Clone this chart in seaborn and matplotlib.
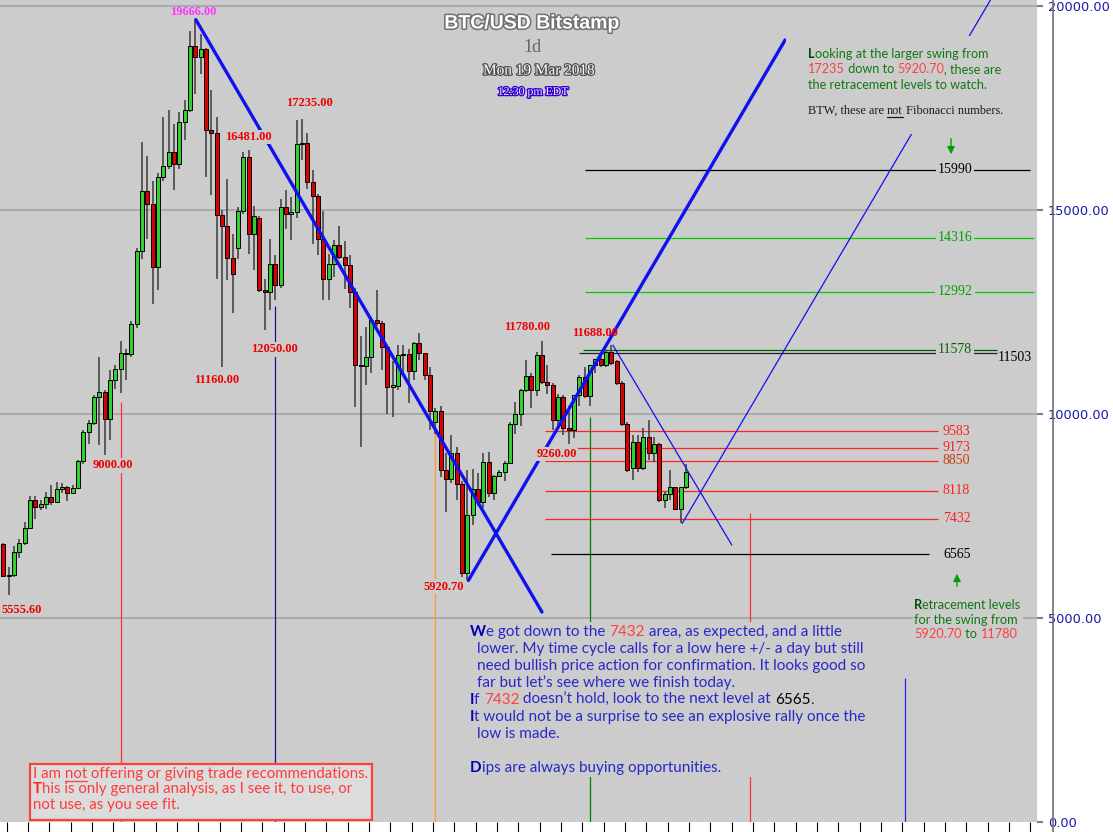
import numpy as np
import pandas as pd
import matplotlib
matplotlib.use('Agg')
import matplotlib.pyplot as plt
import seaborn as sns
import matplotlib.patheffects as pe
from matplotlib.transforms import IdentityTransform
from matplotlib.patches import Rectangle, FancyArrowPatch
from matplotlib.lines import Line2D

# ---------------- data ----------------
dates = pd.date_range('2017-11-11', '2018-03-19', freq='D')

open_ = [6803, 6027, 6060, 6623, 6844, 7211, 7889, 7710, 7791, 7955,
         7848, 8158, 8200, 8053, 8175, 8845, 9547, 9768, 10420, 10543,
         9866, 10845, 11115, 11498, 11470, 12201, 13997, 15467, 15158, 13605,
         15810, 16072, 16423, 16138, 17153, 17461, 19012, 18750, 18955, 16970,
         16888, 14872, 14602, 13835, 14080, 14977, 16300, 14423, 14806, 13034,
         12990, 13688, 13157, 15075, 14912, 14950, 16611, 16650, 15688, 15337,
         14300, 13304, 13688, 14136, 13850, 13646, 12993, 11197, 11170, 11400,
         12299, 12240, 11630, 10665, 10690, 11441, 11460, 11057, 11752, 11483,
         10951, 9808, 10070, 8624, 8396, 9048, 8281, 6093, 7522, 8151,
         7848, 8828, 8053, 8477, 8567, 8803, 9743, 9996, 10584, 10935,
         10584, 11441, 10788, 10720, 9849, 10420, 9650, 9610, 10462, 10910,
         10440, 11197, 11360, 11197, 11523, 11290, 10748, 9767, 8665, 9318,
         8665, 9440, 9033, 9277, 7889, 8036, 8200, 7660, 8200]
high = [6830, 6256, 6762, 6926, 7358, 7987, 7987, 7889, 8093, 8256,
        8338, 8300, 8230, 8256, 8870, 9604, 9849, 10462, 11385, 10584,
        11074, 11197, 11792, 11581, 12282, 14080, 16668, 16325, 15700, 15900,
        17280, 17444, 17118, 17397, 17689, 19387, 19666, 19323, 18979, 17951,
        17280, 14994, 15770, 14423, 15075, 16423, 16481, 15092, 14850, 13300,
        14300, 13900, 15280, 15484, 15320, 17199, 17235, 16888, 15990, 15400,
        14977, 13932, 14259, 14602, 14250, 13900, 13100, 11900, 12135, 12380,
        13050, 12282, 11650, 11290, 11700, 11687, 11600, 11768, 11988, 11500,
        11150, 10135, 10200, 9033, 9482, 9200, 8350, 8624, 8641, 8543,
        9033, 9074, 8500, 8620, 8850, 9800, 10298, 10620, 11319, 11000,
        11523, 11780, 11200, 10750, 10500, 10460, 10200, 10462, 10960, 11150,
        11197, 11360, 11440, 11560, 11688, 11320, 10800, 9800, 9482, 9480,
        9645, 9850, 9440, 9300, 8100, 8624, 8220, 8220, 8763]
low = [6010, 5555.6, 6010, 6460, 6800, 7190, 7415, 7645, 7660, 7766,
       7830, 8060, 7864, 8040, 8160, 8763, 9261, 9720, 9237, 9000,
       9359, 10625, 10503, 10829, 11385, 12100, 13810, 14300, 12708, 13034,
       15700, 16000, 15484, 16000, 16709, 17400, 17853, 18343, 15810, 15362,
       13321, 11160, 13296, 12478, 13810, 14900, 13932, 13524, 13000, 12050,
       12544, 12789, 13100, 14545, 14259, 14800, 16219, 15525, 14177, 13892,
       12789, 12789, 13360, 13808, 13058, 12600, 10175, 9200, 10707, 11008,
       12150, 11090, 10012, 9930, 10600, 10993, 10258, 10829, 11319, 10830,
       9604, 9500, 8460, 7603, 8300, 7889, 6000, 5920.7, 7277, 7750,
       7700, 7970, 7890, 8470, 8350, 8770, 9500, 9700, 10540, 10135,
       10450, 10740, 10500, 9604, 9700, 9482, 9260, 9400, 10200, 10400,
       10200, 11000, 11150, 11150, 11200, 10700, 9700, 8583, 8379, 8580,
       8620, 8870, 8828, 7850, 7685, 7900, 7640, 7318, 8150]
close = [6027, 6060, 6623, 6844, 7211, 7889, 7710, 7791, 7955, 7848,
         8158, 8200, 8053, 8175, 8845, 9547, 9768, 10420, 10543, 9866,
         10845, 11115, 11498, 11470, 12201, 13997, 15467, 15158, 13605, 15810,
         16072, 16423, 16138, 17153, 17461, 19012, 18750, 18955, 16970, 16888,
         14872, 14602, 13835, 13426, 14977, 16300, 14423, 14847, 13034, 12990,
         13688, 13157, 15075, 14912, 14950, 16611, 16650, 15688, 15337, 14300,
         13304, 13688, 14136, 13850, 13646, 12993, 11197, 11170, 11400, 12299,
         12240, 11630, 10665, 10690, 11441, 11460, 11057, 11752, 11483, 10951,
         10070, 10070, 8624, 8396, 9048, 8281, 6093, 7522, 8151, 7848,
         8828, 8053, 8477, 8567, 8803, 9743, 9996, 10584, 10935, 10584,
         11441, 10788, 10720, 9849, 10420, 9650, 9610, 10462, 10910, 10440,
         11197, 11360, 11197, 11523, 11238, 10748, 9767, 8624, 9318, 8665,
         9440, 9033, 9277, 7889, 8036, 8200, 7660, 8200, 8583]

# swing highs / lows that are labelled on the chart (day index, 'H' or 'L')
pivot_days = [36, 46, 56, 41, 49, 19, 1, 87, 101, 114, 106]
pivot_kind = ['H', 'H', 'H', 'L', 'L', 'L', 'L', 'L', 'H', 'H', 'L']

# retracement levels
level_values = [15990, 14316, 12992, 11578, 11503, 9583, 9173, 8850, 8118, 7432, 6565]

# time-cycle marker days and their upper prices
cycle_days = [22, 51, 81, 110, 140, 169]
cycle_top = [10290, 12642, 9530, 9922, 7570, 3528]

# trend lines (day index, price) pairs
trend_days = [[36.1, 101.0], [87.2, 146.6], [114.3, 136.6], [127.3, 185.1]]
trend_prices = [[19666, 5147], [5921, 19167], [11688, 6789], [7318, 20147]]

y_ticks = [0, 5000, 10000, 15000, 20000]

# ---------------- style ----------------
sns.set_theme(style='white')
plt.rcParams['font.family'] = ['DejaVu Sans']
plt.rcParams['axes.linewidth'] = 0

W, H = 1113, 832
BG = '#CCCCCC'
fig = plt.figure(figsize=(W / 100, H / 100), dpi=100, facecolor='white')
ax = fig.add_axes([0, 10 / H, 1037 / W, 822 / H])
ax.set_facecolor(BG)
PX = 5.333
ax.set_xlim(-0.62, -0.62 + 1037 / PX)
ax.set_ylim(0, 822 * 24.51)
for s in ax.spines.values():
    s.set_visible(False)
ax.grid(False)

for v in y_ticks[1:]:
    ax.axhline(v, color='#A0A0A0', lw=1.1, zorder=1)

# ---------------- candles ----------------
xi = np.arange(len(dates))
o = np.array(open_, float); h = np.array(high, float)
l = np.array(low, float); c = np.array(close, float)
up = c >= o
ax.vlines(xi, l, h, color='#3a3a3a', lw=1.1, zorder=2)
body = np.maximum(np.abs(c - o), 35)
ax.bar(xi, body, bottom=np.minimum(o, c), width=0.78,
       color=np.where(up, '#2FD02F', '#DD0000'), edgecolor='black',
       linewidth=0.7, zorder=3)

# cycle lines
cycle_colors = ['#FF3030', '#14149A', '#FF9A20', '#008000', '#FF3030', '#2020FF']
ax.vlines(cycle_days, 0, cycle_top, colors=cycle_colors, lw=0.9, zorder=1.5)

# retracement level lines
lvl_start = [109.1, 109.1, 109.1, 108.7, 107.9, 101.6, 101.6, 101.6, 101.6, 101.6, 102.7]
lvl_end = [192.5, 193.3, 193.3, 186.3, 186.3, 175.3, 175.3, 175.3, 175.3, 175.3, 173.6]
lvl_line_col = ['#000000', '#00CC00', '#00CC00', '#005A00', '#202020',
                '#FF2020', '#FF2020', '#FF2020', '#FF2020', '#FF2020', '#000000']
ax.hlines(level_values, lvl_start, lvl_end, colors=lvl_line_col, lw=0.9, zorder=1.8)
lvl_txt_col = ['#000000', '#00A000', '#00A000', '#006400', '#000000',
               '#FF2020', '#FF2020', '#C83C10', '#FF2020', '#FF2020', '#000000']
for k, v in enumerate(level_values):
    if k < 4:
        ax.text(178.45, v, f'{v}', ha='center', va='center', fontsize=10,
                family='Liberation Serif', color=lvl_txt_col[k], zorder=6,
                bbox=dict(boxstyle='square,pad=0.15', fc=BG, ec='none'))
    elif k == 4:
        ax.annotate(f'{v}', xy=(186.5, v), xytext=(0, -5), textcoords='offset pixels',
                    ha='left', va='center', fontsize=10, family='Liberation Serif',
                    color=lvl_txt_col[k], zorder=6)
    else:
        ax.text(176.2, v, f'{v}', ha='left', va='center', fontsize=10,
                family='Liberation Serif', color=lvl_txt_col[k], zorder=6)

# trend lines
for k, (td, tp) in enumerate(zip(trend_days, trend_prices)):
    sns.lineplot(x=td, y=tp, ax=ax, color='#1010F0', lw=2.4 if k < 2 else 0.9,
                 sort=False, estimator=None, legend=False, zorder=4)

# pivot labels
piv_off = [(-2, 8), (0, 12.5), (7, 16), (-5, -13), (10, -19), (8, -10.5),
           (-7, -14.7), (-23.5, -6.3), (-15, 14), (-16.5, 12.3), (-12, -10)]
piv_bbox = [False, True, False, False, True, True, False, True, False, False, True]
for k, (d, kind) in enumerate(zip(pivot_days, pivot_kind)):
    v = high[d] if kind == 'H' else low[d]
    col = '#FF33FF' if k == 0 else '#EE0000'
    ha = 'left' if k == 6 else 'center'
    kw = dict(bbox=dict(boxstyle='square,pad=0.1', fc=BG, ec='none')) if piv_bbox[k] else {}
    ax.annotate(f'{v:.2f}', xy=(d, v), xytext=piv_off[k], textcoords='offset pixels',
                ha=ha, va='center', fontsize=9, fontweight='bold',
                family='Liberation Serif', color=col, zorder=7,
                annotation_clip=False, **kw)

# ---------------- axes ticks ----------------
ax.yaxis.tick_right()
ax.set_yticks(y_ticks)
ax.set_yticklabels([f'{v:.2f}' for v in y_ticks])
ax.tick_params(axis='y', which='major', direction='out', length=4.3, width=1.5,
               color='#808080', pad=3.6, labelsize=9.3, labelcolor='#1818A8',
               right=True, left=False)
ax.set_xticks(np.arange(0.6, 194, 4))
ax.set_xticklabels([])
ax.tick_params(axis='x', direction='out', length=7.5, width=0.8, color='black',
               bottom=True)
ax.set_xlabel(''); ax.set_ylabel('')

ID = IdentityTransform()
fig.add_artist(Line2D([1053, 1053], [0, H], transform=ID, color='#707070', lw=1.2))

# ---------------- text helpers ----------------
R = fig.canvas.get_renderer()


def text_w(s, **kw):
    t = fig.text(0, 0, s + '|', transform=ID, **kw)
    b = fig.text(0, 0, '|', transform=ID, **kw)
    w = t.get_window_extent(R).width - b.get_window_extent(R).width
    t.remove(); b.remove()
    return w


def rich(x, base, segs, size, family):
    for seg in segs:
        s, col = seg[0], seg[1]
        bold = len(seg) > 2 and seg[2]
        und = len(seg) > 3 and seg[3]
        kw = dict(fontsize=size, family=family, color=col,
                  fontweight='bold' if bold else 'normal')
        fig.text(x, H - base, s, transform=ID, ha='left', va='baseline', zorder=4, **kw)
        w = text_w(s, **kw)
        if und:
            fig.add_artist(Line2D([x, x + w], [H - base - 2.5] * 2, transform=ID,
                                  color=col, lw=0.9, zorder=4))
        x += w


def box(x0, y0, x1, y1, fc=BG, ec='none', lw=0):
    fig.add_artist(Rectangle((x0, H - y1), x1 - x0, y1 - y0, transform=ID,
                             facecolor=fc, edgecolor=ec, lw=lw, zorder=1.5))


# ---------------- title ----------------
st = [pe.withStroke(linewidth=2.2, foreground='#707070')]
fig.text(532, H - 24, 'BTC/USD Bitstamp', transform=ID, ha='center', va='center',
         fontsize=14, fontweight='bold', family='Liberation Sans', color='white',
         path_effects=st)
fig.text(532, H - 48, '1d', transform=ID, ha='center', va='center', fontsize=13,
         family='Liberation Serif', color='#666666')
fig.text(539, H - 71, 'Mon 19 Mar 2018', transform=ID, ha='center', va='center',
         fontsize=11, family='Liberation Serif', color='white',
         path_effects=[pe.withStroke(linewidth=1.8, foreground='#505050')])
fig.text(533, H - 92, '12:30 pm EDT', transform=ID, ha='center', va='center',
         fontsize=8.5, family='Liberation Serif', color='#EEE8FF',
         path_effects=[pe.withStroke(linewidth=1.8, foreground='#3300CC')])

# ---------------- annotation blocks ----------------
GREEN = '#107810'; GDARK = '#005000'; RED = '#FF4040'
BLUE = '#2828C8'; BDARK = '#0000B0'
SANS = ['Lato', 'DejaVu Sans']

box(786, 36, 1012, 134)
gs = 9.1
rich(808, 58, [('L', GDARK, True), ('ooking at the larger swing from', GREEN)], gs, SANS)
rich(808, 73, [('17235', RED), (' down to ', GREEN), ('5920.70', RED), (', these are', GREEN)], gs, SANS)
rich(808, 89, [('the retracement levels to watch.', GREEN)], gs, SANS)
rich(808, 114, [('BTW, these are ', '#102010'), ('not', '#102010', False, True),
                (' Fibonacci numbers.', '#102010')], 8.8, ['Liberation Serif'])

fig.add_artist(FancyArrowPatch((951, H - 136), (951, H - 157), transform=ID,
                               arrowstyle='-|>', mutation_scale=11, color='#00A000',
                               lw=1.0, zorder=4))
fig.add_artist(FancyArrowPatch((957, H - 589), (957, H - 571), transform=ID,
                               arrowstyle='-|>', mutation_scale=11, color='#00A000',
                               lw=1.0, zorder=4))

box(913, 594, 1023, 643)
rich(914, 609, [('R', GDARK, True), ('etracement levels', GREEN)], 9.2, SANS)
rich(914, 624, [('for the swing from', GREEN)], 9.2, SANS)
rich(914, 638, [('5920.70', RED), (' to ', GREEN), ('11780', RED)], 9.2, SANS)

box(462, 622, 895, 777)
bl = 11.0
rich(470, 636, [('W', BDARK, True), ('e got down to the ', BLUE), ('7432', RED),
                (' area, as expected, and a little', BLUE)], bl, SANS)
rich(477, 653, [('lower. My time cycle calls for a low here +/- a day but still', BLUE)], bl, SANS)
rich(477, 670, [('need bullish price action for confirmation. It looks good so', BLUE)], bl, SANS)
rich(477, 687, [('far but let\u2019s see where we finish today.', BLUE)], bl, SANS)
rich(470, 704, [('I', BDARK, True), ('f ', BLUE), ('7432', RED),
                (' doesn\u2019t hold, look to the next level at ', BLUE), ('6565', '#000000'),
                ('.', BLUE)], bl, SANS)
rich(470, 721, [('I', BDARK, True), ('t would not be a surprise to see an explosive rally once the', BLUE)], bl, SANS)
rich(477, 738, [('low is made.', BLUE)], bl, SANS)
rich(470, 772, [('D', BDARK, True), ('ips are always buying opportunities.', BLUE)], bl, SANS)

box(30, 764, 372, 820, fc='#DCDCDC', ec='#FF4040', lw=1.6)
DR = '#FF3B3B'
ds = 10.8
rich(33, 778, [('I am ', DR), ('not', DR, False, True), (' offering or giving trade recommendations.', DR)], ds, SANS)
rich(33, 793, [('T', '#FF2020', True), ('his is only general analysis, as I see it, to use, or', DR)], ds, SANS)
rich(33, 809, [('not use, as you see fit.', DR)], ds, SANS)

fig.savefig('out.png', dpi=100, facecolor='white')
